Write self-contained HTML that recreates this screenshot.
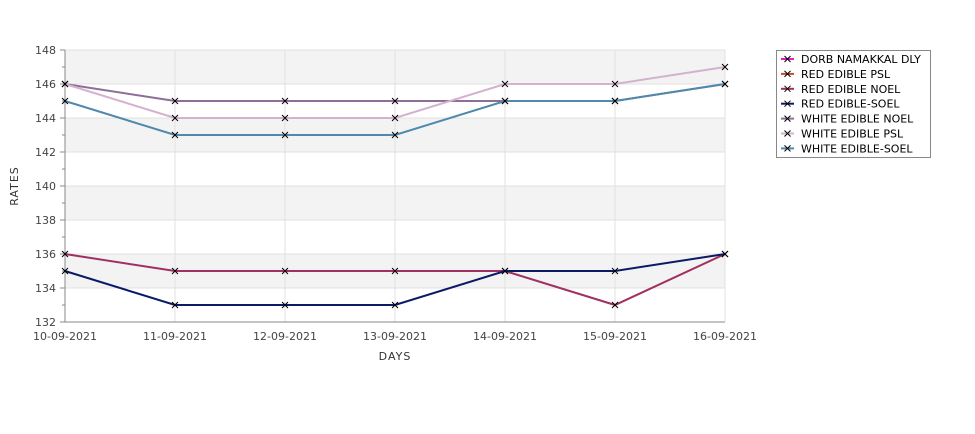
<!DOCTYPE html>
<html><head><meta charset="utf-8"><style>
body{margin:0;background:#fff;}
svg text{font-family:"DejaVu Sans","Liberation Sans",sans-serif;}
</style></head><body>
<svg width="975" height="429" id="chart">
</svg>
<script>
const categories=["10-09-2021","11-09-2021","12-09-2021","13-09-2021","14-09-2021","15-09-2021","16-09-2021"];
const seriesNames=["DORB NAMAKKAL DLY","RED EDIBLE  PSL","RED EDIBLE NOEL","RED EDIBLE-SOEL","WHITE EDIBLE NOEL","WHITE EDIBLE PSL","WHITE EDIBLE-SOEL"];
const seriesColors=["#e020c0","#c05020","#a03060","#0b1a66","#8e6e99","#d4b2cf","#4f89ab"];
const redNoel=[136,135,135,135,135,133,136];
const redSoel=[135,133,133,133,135,135,136];
const whiteNoel=[146,145,145,145,145,145,146];
const whitePsl=[146,144,144,144,146,146,147];
const whiteSoel=[145,143,143,143,145,145,146];
const yTicks=[132,134,136,138,140,142,144,146,148];

const svg=document.getElementById('chart');
const NS="http://www.w3.org/2000/svg";
const X0=65,X1=725,Y0=322,Y1=50,YMIN=132,YMAX=148;
const xs=i=>X0+i*(X1-X0)/(categories.length-1);
const ys=v=>Y0-(v-YMIN)*(Y0-Y1)/(YMAX-YMIN);
function mk(t,a,p){const e=document.createElementNS(NS,t);for(const k in a)e.setAttribute(k,a[k]);(p||svg).appendChild(e);return e;}

// bands
for(let v=YMIN;v<YMAX;v+=2){
  const r=mk('rect',{x:X0,y:ys(v+2),width:X1-X0,height:ys(v)-ys(v+2),fill:((v-YMIN)/2)%2===1?'#f3f3f3':'#ffffff'});
  
  
}
yTicks.forEach(v=>{
  const l=mk('line',{x1:X0,x2:X1,y1:ys(v),y2:ys(v),stroke:'#e0e0e0'});
  
  
  const tk=mk('line',{x1:X0-5,x2:X0,y1:ys(v),y2:ys(v),stroke:'#888'});
  
  
  const t=mk('text',{x:X0-9,y:ys(v)+4,'text-anchor':'end','font-size':11,fill:'#444'});
  t.textContent=v;
  
  
  if(v<YMAX){const m=mk('line',{x1:X0-3,x2:X0,y1:ys(v+1),y2:ys(v+1),stroke:'#888'});
  
  }
});
categories.forEach((c,i)=>{
  const l=mk('line',{x1:xs(i),x2:xs(i),y1:Y1,y2:Y0,stroke:'#e0e0e0'});
  
  
  const t=mk('text',{x:xs(i),y:Y0+18,'text-anchor':'middle','font-size':11,fill:'#444'});
  t.textContent=c;
  
  
});
const ax=mk('path',{d:`M${X0} ${Y1}V${Y0}H${X1}`,fill:'none',stroke:'#888'});


const xt=mk('text',{x:395,y:360,'text-anchor':'middle','font-size':11,fill:'#333','letter-spacing':'1'});
xt.textContent='DAYS';


const yt=mk('text',{x:18,y:186,'text-anchor':'middle','font-size':11,fill:'#333','letter-spacing':'1',transform:'rotate(-90 18 186)'});
yt.textContent='RATES';



const drawn=[[redNoel,2],[redSoel,3],[whiteNoel,4],[whitePsl,5],[whiteSoel,6]];
drawn.forEach(([vals,ci])=>{
  const p=mk('polyline',{points:vals.map((v,i)=>xs(i)+','+ys(v)).join(' '),fill:'none',stroke:seriesColors[ci],'stroke-width':2});
  
  
});
drawn.forEach(([vals])=>{
  vals.forEach((v,i)=>{
    const x=xs(i),y=ys(v);
    const m=mk('path',{d:`M${x-3} ${y-3}L${x+3} ${y+3}M${x-3} ${y+3}L${x+3} ${y-3}`,stroke:'#000','stroke-width':1});
    
    
  });
});

// legend
const lg=mk('g',{});


mk('rect',{x:776.5,y:50.5,width:154,height:107,fill:'#fff',stroke:'#888'},lg);
seriesNames.forEach((n,i)=>{
  const y=59+i*14.9;
  const g=mk('g',{},lg);
  
  
  mk('line',{x1:781,x2:794,y1:y,y2:y,stroke:seriesColors[i],'stroke-width':2},g);
  mk('path',{d:`M${784.5} ${y-3}L${790.5} ${y+3}M${784.5} ${y+3}L${790.5} ${y-3}`,stroke:'#000'},g);
  const t=mk('text',{x:801,y:y+4,'font-size':11,fill:'#000','xml:space':'preserve'},g);
  t.textContent=n;
});
</script>
</body></html>
